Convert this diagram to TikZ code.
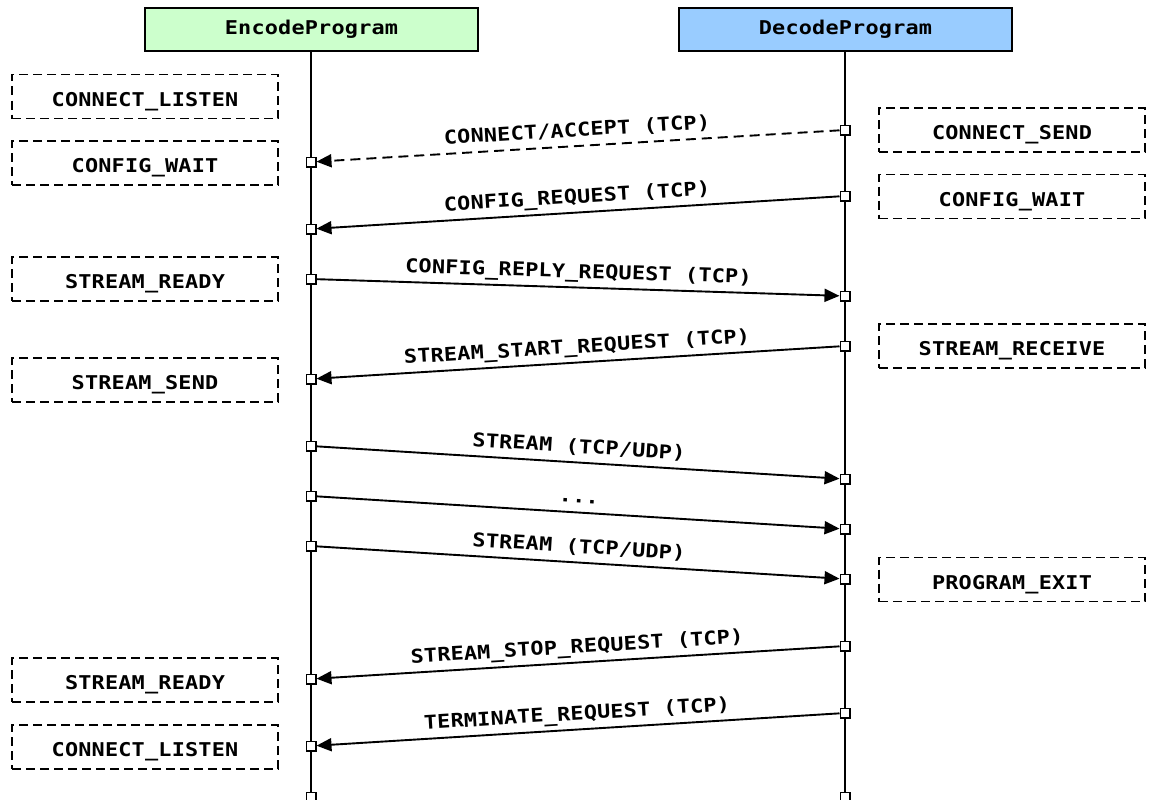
\documentclass[tikz,border=0pt]{standalone}
\usepackage{fontspec}
\usetikzlibrary{arrows.meta}
\newfontfamily\seqfont[FakeStretch=1.15, LetterSpace=1]{DejaVu Sans Mono}
\definecolor{encfill}{HTML}{CCFFCC}
\definecolor{decfill}{HTML}{99CCFF}
\tikzset{
  every node/.style={font=\seqfont\bfseries\fontsize{19}{21}\selectfont},
  header/.style={draw, line width=1.9pt, minimum width=333pt, minimum height=43pt, inner sep=0pt, text height=11pt, text depth=0pt},
  statebox/.style={draw, dash pattern=on 9pt off 5pt, line width=1.8pt, minimum width=266pt, minimum height=44pt, inner sep=0pt, text height=19pt, text depth=0pt},
  lifeline/.style={line width=1.9pt},
  port/.style={draw, fill=white, line width=1.5pt, minimum size=9.5pt, inner sep=0pt},
  msg/.style={line width=1.9pt, -{Triangle[length=15pt,width=13pt]}},
  lbl/.style={midway, sloped, above=8.5pt, inner sep=0pt, text depth=0pt}
}
\begin{document}
\begin{tikzpicture}[x=1pt, y=-1pt]
\useasboundingbox (0,0) rectangle (1151,800);

% participants
\node[header, fill=encfill] (enc) at (311.5,29.5) {EncodeProgram};
\node[header, fill=decfill] (dec) at (845.5,29.5) {DecodeProgram};

% lifelines
\coordinate (encend) at (311,800);
\coordinate (decend) at (845,800);
\draw[lifeline] (enc.south -| encend) -- (encend);
\draw[lifeline] (dec.south -| decend) -- (decend);

% encoder states
\node[statebox] (e1) at (145,96.5) {CONNECT\_LISTEN};
\node[statebox] (e2) at (145,163) {CONFIG\_WAIT};
\node[statebox] (e3) at (145,279) {STREAM\_READY};
\node[statebox] (e4) at (145,380) {STREAM\_SEND};
\node[statebox] (e5) at (145,680) {STREAM\_READY};
\node[statebox] (e6) at (145,747) {CONNECT\_LISTEN};

% decoder states
\node[statebox] (d1) at (1012,130) {CONNECT\_SEND};
\node[statebox] (d2) at (1012,196.5) {CONFIG\_WAIT};
\node[statebox] (d3) at (1012,346) {STREAM\_RECEIVE};
\node[statebox] (d4) at (1012,579.5) {PROGRAM\_EXIT};

% activation points on the encoder lifeline
\node[port] (a1) at (311,162) {};
\node[port] (a2) at (311,229) {};
\node[port] (a3) at (311,279) {};
\node[port] (a4) at (311,379) {};
\node[port] (a5) at (311,446) {};
\node[port] (a6) at (311,496) {};
\node[port] (a7) at (311,546) {};
\node[port] (a8) at (311,679) {};
\node[port] (a9) at (311,746) {};
\node[port] (a10) at (311,797) {};

% activation points on the decoder lifeline
\node[port] (b1) at (845,130) {};
\node[port] (b2) at (845,196) {};
\node[port] (b3) at (845,296) {};
\node[port] (b4) at (845,346) {};
\node[port] (b5) at (845,479) {};
\node[port] (b6) at (845,529) {};
\node[port] (b7) at (845,579) {};
\node[port] (b8) at (845,646) {};
\node[port] (b9) at (845,713) {};
\node[port] (b10) at (845,797) {};

% messages
\draw[msg, dash pattern=on 10pt off 6pt] (b1) -- node[lbl] {CONNECT/ACCEPT (TCP)} (a1);
\draw[msg] (b2) -- node[lbl] {CONFIG\_REQUEST (TCP)} (a2);
\draw[msg] (a3) -- node[lbl] {CONFIG\_REPLY\_REQUEST (TCP)} (b3);
\draw[msg] (b4) -- node[lbl] {STREAM\_START\_REQUEST (TCP)} (a4);
\draw[msg] (a5) -- node[lbl] {STREAM (TCP/UDP)} (b5);
\draw[msg] (a6) -- node[lbl] {...} (b6);
\draw[msg] (a7) -- node[lbl] {STREAM (TCP/UDP)} (b7);
\draw[msg] (b8) -- node[lbl] {STREAM\_STOP\_REQUEST (TCP)} (a8);
\draw[msg] (b9) -- node[lbl] {TERMINATE\_REQUEST (TCP)} (a9);
\end{tikzpicture}
\end{document}
